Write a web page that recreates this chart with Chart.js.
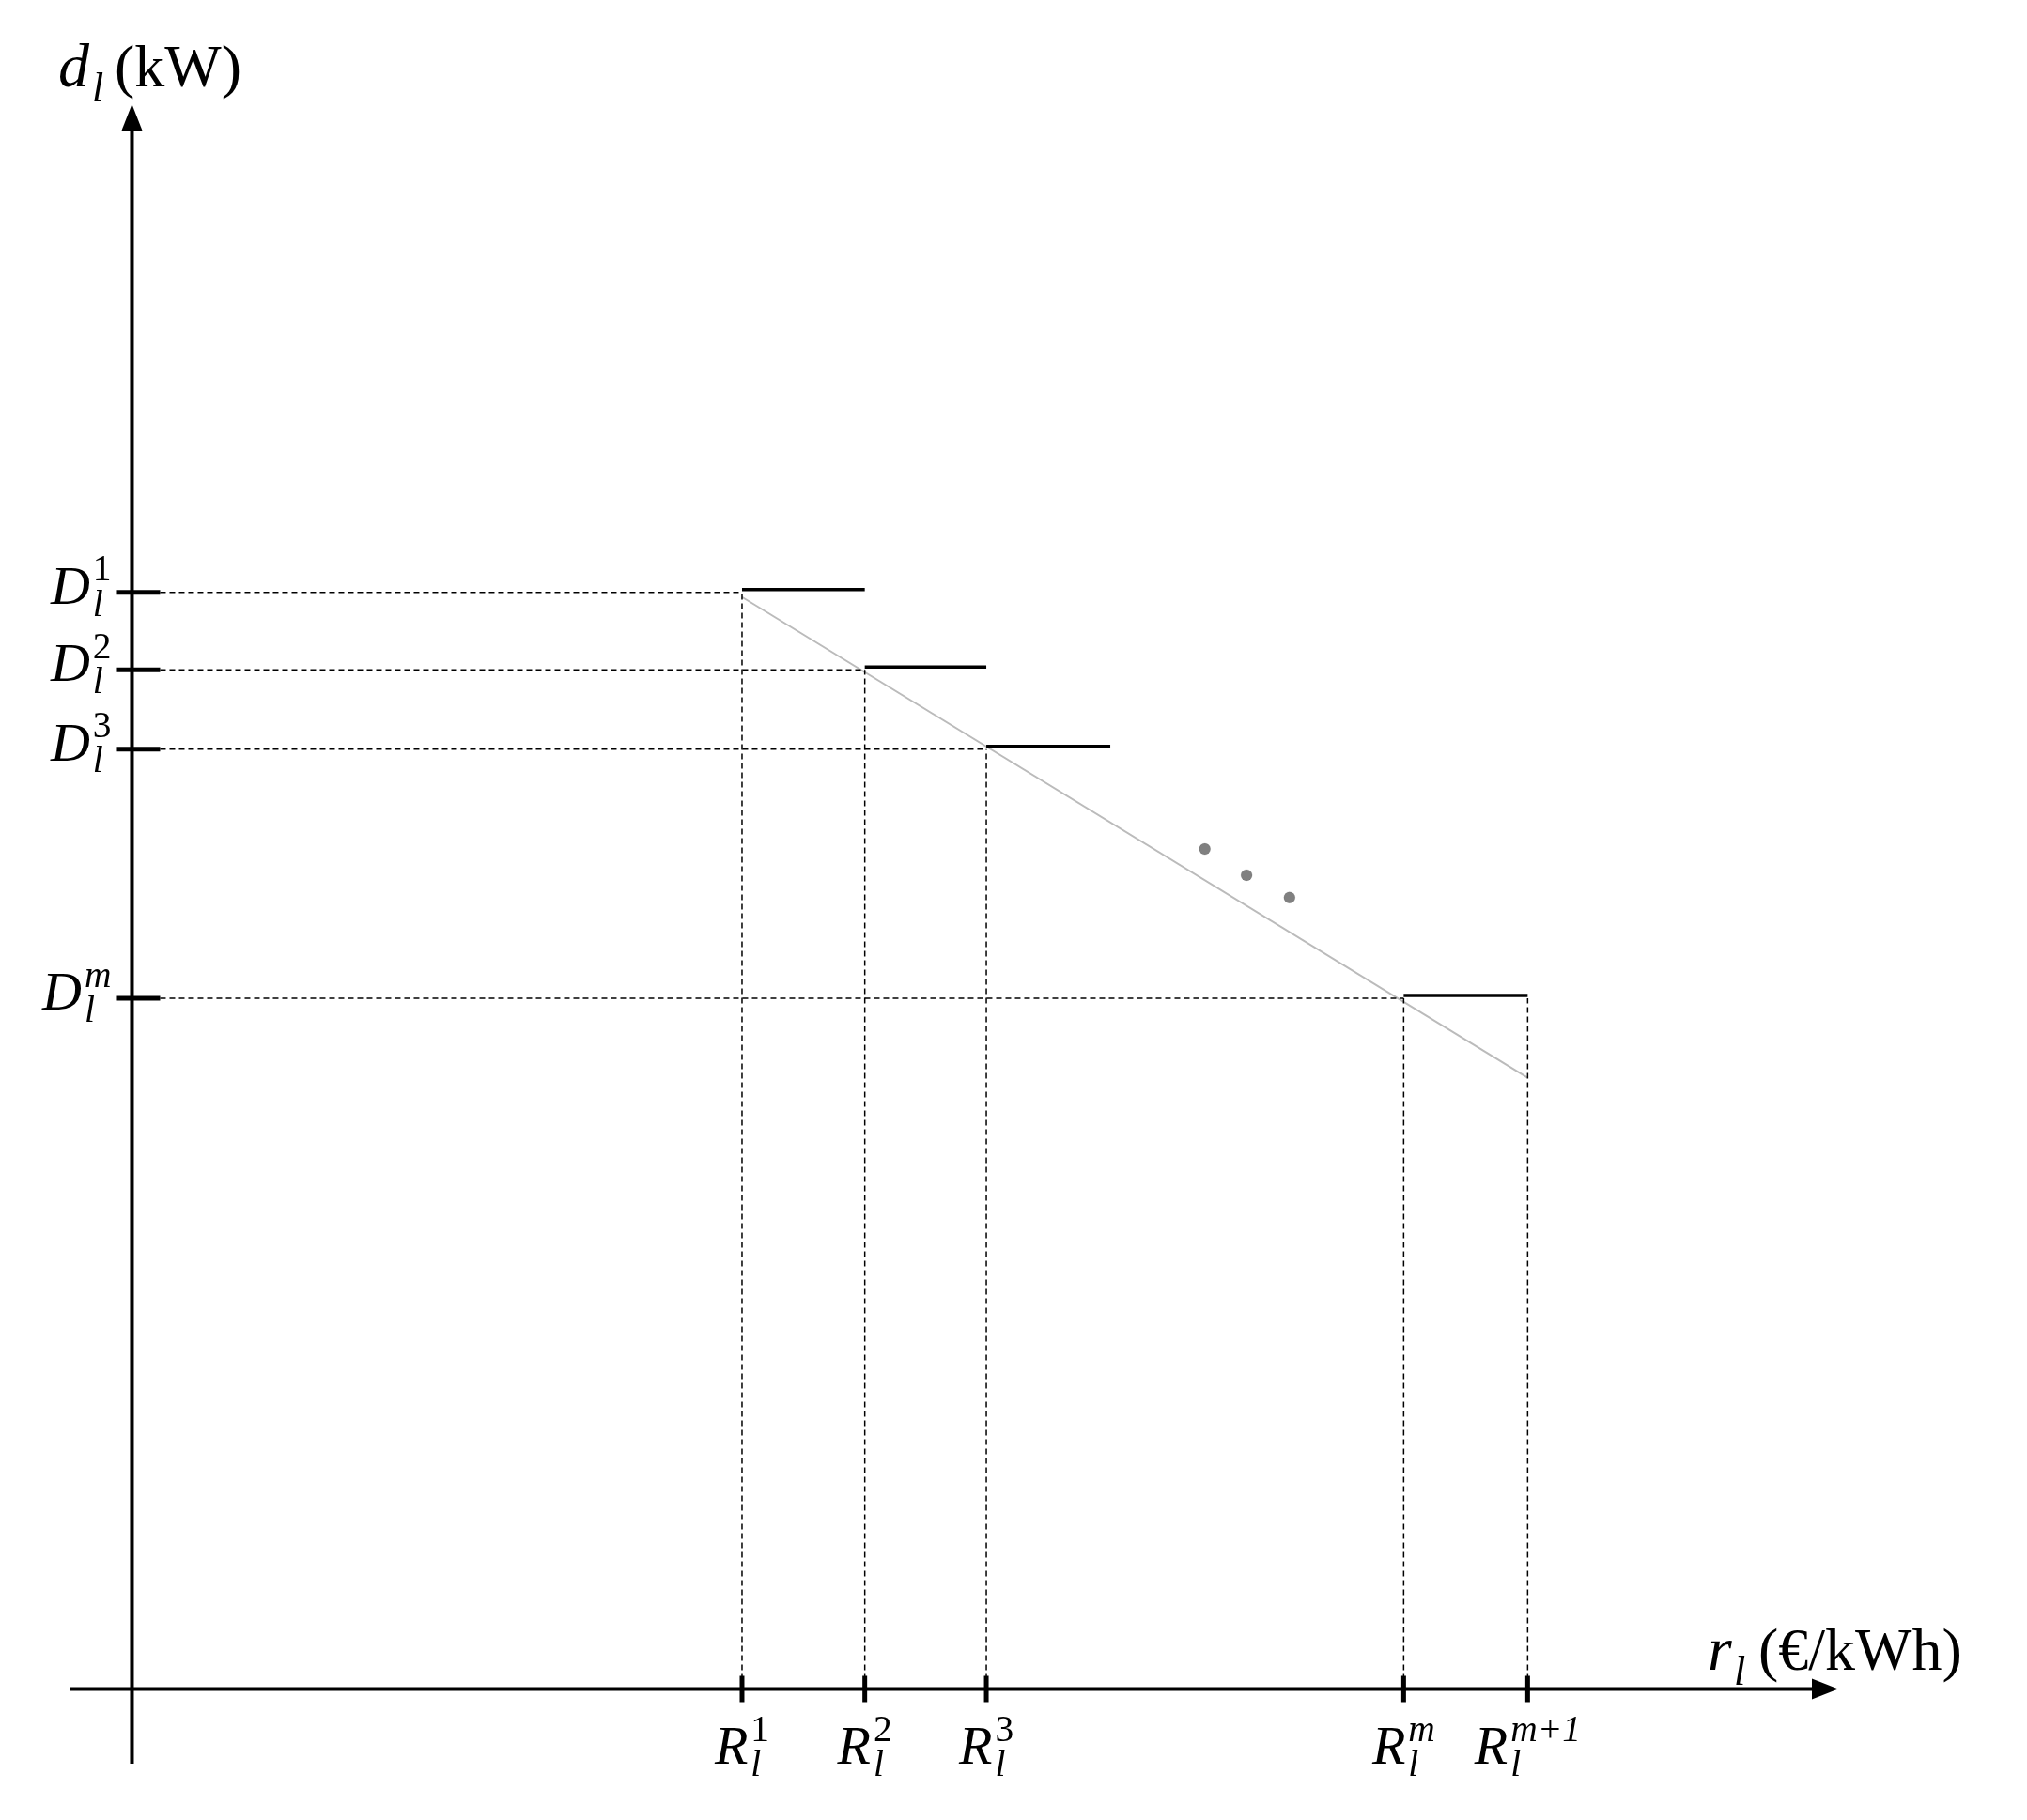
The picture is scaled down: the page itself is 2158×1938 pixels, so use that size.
<!DOCTYPE html>
<html><head><meta charset="utf-8">
<script src="https://cdn.jsdelivr.net/npm/chart.js@4"></script>
<style>html,body{margin:0;padding:0;background:#fff}#w{width:2158px;height:1938px}</style>
</head><body><div id="w"><canvas id="c"></canvas></div>
<script>
const priceLevels = [4.97, 5.97, 6.96, 10.36, 11.37];
const priceSup = ['1', '2', '3', 'm', 'm+1'];
const demandLevels = [11.75, 10.92, 10.07, 7.4];
const demandSup = ['1', '2', '3', 'm'];
const stepStarts = [4.97, 5.97, 6.96, 10.36];
const stepEnds = [5.97, 6.96, 7.97, 11.37];
const trendX = [4.97, 11.37];
const trendY = [11.7, 6.55];
const dotsX = [8.74, 9.08, 9.43];
const dotsY = [9.0, 8.72, 8.48];

const datasets = [];
demandLevels.forEach((d, i) => {
  datasets.push({data: [{x: 0, y: d}, {x: stepStarts[i], y: d}], borderColor: '#000', borderWidth: 1.5, borderDash: [6, 4], pointRadius: 0});
});
priceLevels.forEach((r, i) => {
  const top = i < 4 ? demandLevels[i] : demandLevels[3];
  datasets.push({data: [{x: r, y: 0}, {x: r, y: top}], borderColor: '#000', borderWidth: 1.5, borderDash: [6, 4], pointRadius: 0});
});
stepStarts.forEach((s, i) => {
  datasets.push({data: [{x: s, y: demandLevels[i] + 0.03}, {x: stepEnds[i], y: demandLevels[i] + 0.03}], borderColor: '#000', borderWidth: 3.5, pointRadius: 0});
});
datasets.push({data: trendX.map((x, i) => ({x, y: trendY[i]})), borderColor: '#bbbbbb', borderWidth: 2, pointRadius: 0});
datasets.push({type: 'scatter', data: dotsX.map((x, i) => ({x, y: dotsY[i]})), backgroundColor: '#808080', pointRadius: 6, showLine: false});

function mathLabel(ctx, base, sup, x, y, align, size) {
  ctx.save();
  ctx.fillStyle = '#000';
  ctx.textBaseline = 'alphabetic';
  const supItalic = /[a-z]/.test(sup);
  const bf = `italic ${size}px "Liberation Serif"`;
  const sf = `${supItalic ? 'italic ' : ''}${size * 0.68}px "Liberation Serif"`;
  const lf = `italic ${size * 0.68}px "Liberation Serif"`;
  ctx.font = bf; const bw = ctx.measureText(base).width;
  ctx.font = sf; const sw = Math.max(ctx.measureText(sup).width, 10);
  const tw = bw + 3 + sw;
  let x0 = align === 'right' ? x - tw : align === 'center' ? x - tw / 2 : x;
  ctx.font = bf; ctx.textAlign = 'left'; ctx.fillText(base, x0, y);
  ctx.font = sf; ctx.fillText(sup, x0 + bw + 3, y - size * 0.42);
  ctx.font = lf; ctx.fillText('l', x0 + bw + 3, y + size * 0.22);
  ctx.restore();
}

const axesPlugin = {
  id: 'axes',
  afterDraw(chart) {
    const {ctx, scales: {x, y}} = chart;
    const ox = x.getPixelForValue(0), oy = y.getPixelForValue(0);
    const R = x.right, T = y.top, B = y.bottom;
    ctx.save();
    ctx.strokeStyle = '#000'; ctx.fillStyle = '#000'; ctx.lineWidth = 4;
    ctx.beginPath(); ctx.moveTo(ox - 66, oy); ctx.lineTo(R - 20, oy); ctx.moveTo(ox, B); ctx.lineTo(ox, T + 20); ctx.stroke();
    ctx.beginPath(); ctx.moveTo(R, oy); ctx.lineTo(R - 28, oy - 11); ctx.lineTo(R - 28, oy + 11); ctx.closePath(); ctx.fill();
    ctx.beginPath(); ctx.moveTo(ox, T); ctx.lineTo(ox - 11, T + 28); ctx.lineTo(ox + 11, T + 28); ctx.closePath(); ctx.fill();
    ctx.lineWidth = 5;
    priceLevels.forEach((r, i) => {
      const px = x.getPixelForValue(r);
      ctx.beginPath(); ctx.moveTo(px, oy - 14); ctx.lineTo(px, oy + 14); ctx.stroke();
      mathLabel(ctx, 'R', priceSup[i], px, oy + 80, 'center', 58);
    });
    demandLevels.forEach((d, i) => {
      const py = y.getPixelForValue(d);
      ctx.beginPath(); ctx.moveTo(ox - 16, py); ctx.lineTo(ox + 30, py); ctx.stroke();
      mathLabel(ctx, 'D', demandSup[i], ox - 22, py + 12, 'right', 58);
    });
    ctx.textBaseline = 'alphabetic'; ctx.textAlign = 'left';
    ctx.font = 'italic 66px "Liberation Serif"'; ctx.fillText('d', 62, 92);
    ctx.font = 'italic 44px "Liberation Serif"'; ctx.fillText('l', 98, 108);
    ctx.font = '64px "Liberation Serif"'; ctx.fillText('(kW)', 122, 92);
    ctx.font = 'italic 66px "Liberation Serif"'; ctx.fillText('r', 1818, 1778);
    ctx.font = 'italic 44px "Liberation Serif"'; ctx.fillText('l', 1846, 1794);
    ctx.font = '64px "Liberation Serif"'; ctx.fillText('(€/kWh)', 1872, 1778);
    ctx.restore();
  }
};

new Chart(document.getElementById('c'), {
  type: 'line',
  data: {datasets},
  options: {
    responsive: true, maintainAspectRatio: false, animation: false,
    layout: {padding: {left: 49, right: 201, top: 111, bottom: 60}},
    plugins: {legend: {display: false}, tooltip: {enabled: false}},
    scales: {
      x: {type: 'linear', min: -0.7, max: 13.9, display: false},
      y: {type: 'linear', min: -0.8, max: 16.98, display: false}
    }
  },
  plugins: [axesPlugin]
});
</script></body></html>
